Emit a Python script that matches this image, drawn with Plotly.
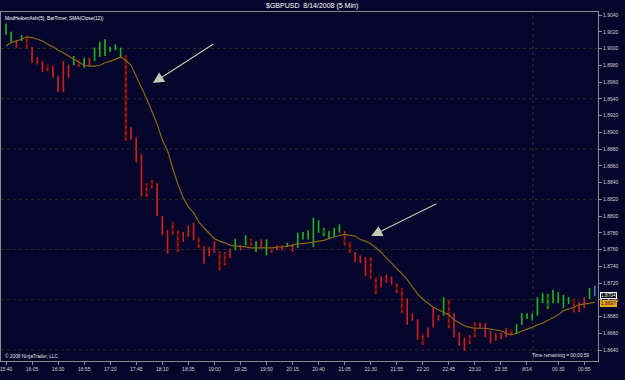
import plotly.graph_objects as go
import pandas as pd

# ---------------- data ----------------
title_text = "$GBPUSD  8/14/2008 (5 Min)"
indicator_text = "ModHeikenAshi(5), BarTimer, SMA(Close(12))"
copyright_text = "© 2008 NinjaTrader, LLC"
timer_text = "Time remaining = 00:00:59"

bar_times = pd.date_range("2008-08-13 15:40", periods=114, freq="5min")

highs = [1.9030, 1.9020, 1.9010, 1.9016, 1.9015, 1.9002, 1.8990, 1.8985, 1.8981, 1.8979,
         1.8967, 1.8985, 1.8981, 1.8991, 1.8986, 1.8989, 1.8989, 1.9001, 1.9008, 1.9011,
         1.9002, 1.9005, 1.9001, 1.8992, 1.8906, 1.8894, 1.8874, 1.8839, 1.8843, 1.8839,
         1.8800, 1.8783, 1.8793, 1.8783, 1.8781, 1.8789, 1.8792, 1.8775, 1.8764, 1.8763,
         1.8770, 1.8758, 1.8757, 1.8761, 1.8773, 1.8765, 1.8777, 1.8773, 1.8770, 1.8772,
         1.8772, 1.8763, 1.8765, 1.8765, 1.8768, 1.8767, 1.8780, 1.8781, 1.8783, 1.8798,
         1.8795, 1.8786, 1.8782, 1.8786, 1.8790, 1.8782, 1.8770, 1.8757, 1.8753, 1.8751,
         1.8751, 1.8727, 1.8728, 1.8730, 1.8728, 1.8720, 1.8714, 1.8702, 1.8684, 1.8677,
         1.8660, 1.8667, 1.8691, 1.8682, 1.8703, 1.8701, 1.8684, 1.8661, 1.8655, 1.8658,
         1.8673, 1.8673, 1.8672, 1.8663, 1.8660, 1.8661, 1.8666, 1.8665, 1.8671, 1.8684,
         1.8684, 1.8684, 1.8703, 1.8708, 1.8707, 1.8712, 1.8709, 1.8706, 1.8703, 1.8701,
         1.8697, 1.8703, 1.8714, 1.8717]

lows = [1.9016, 1.9007, 1.9001, 1.9009, 1.9001, 1.8983, 1.8981, 1.8972, 1.8973, 1.8965,
        1.8948, 1.8948, 1.8965, 1.8980, 1.8978, 1.8977, 1.8979, 1.8985, 1.8990, 1.8991,
        1.8996, 1.8998, 1.8989, 1.8890, 1.8891, 1.8864, 1.8823, 1.8823, 1.8833, 1.8800,
        1.8777, 1.8755, 1.8778, 1.8757, 1.8769, 1.8775, 1.8771, 1.8762, 1.8743, 1.8752,
        1.8756, 1.8735, 1.8741, 1.8750, 1.8759, 1.8759, 1.8765, 1.8764, 1.8757, 1.8762,
        1.8753, 1.8756, 1.8759, 1.8759, 1.8763, 1.8757, 1.8762, 1.8772, 1.8772, 1.8763,
        1.8780, 1.8776, 1.8773, 1.8775, 1.8780, 1.8765, 1.8756, 1.8745, 1.8744, 1.8728,
        1.8725, 1.8707, 1.8715, 1.8720, 1.8718, 1.8708, 1.8684, 1.8670, 1.8675, 1.8652,
        1.8646, 1.8655, 1.8667, 1.8675, 1.8681, 1.8666, 1.8655, 1.8645, 1.8639, 1.8647,
        1.8655, 1.8665, 1.8655, 1.8648, 1.8651, 1.8653, 1.8655, 1.8658, 1.8659, 1.8670,
        1.8677, 1.8675, 1.8681, 1.8696, 1.8689, 1.8696, 1.8696, 1.8690, 1.8695, 1.8685,
        1.8685, 1.8690, 1.8701, 1.8704]

# u = up bar, d = down bar, U/D = hollow up/down bar, c = current (live) bar
bar_kind = ("uuduDdddDd" "ddduDuduuu" "uuuDdddDDd" "ddDDdddDdd" "dDDduduDud"
            "uDdduduuuu" "uUuuuDDddd" "DDdddDDddd" "DddduDdddD" "DddddddDuu"
            "uuuuUuuuuD" "dduc")

sma12 = [1.9003, 1.9007, 1.9009, 1.9011, 1.9014, 1.9013, 1.9011, 1.9009, 1.9005, 1.9002,
         1.8998, 1.8995, 1.8991, 1.8987, 1.8984, 1.8980, 1.8979, 1.8979, 1.8980, 1.8983,
         1.8985, 1.8987, 1.8990, 1.8986, 1.8980, 1.8967, 1.8954, 1.8940, 1.8925, 1.8910,
         1.8891, 1.8878, 1.8857, 1.8838, 1.8822, 1.8811, 1.8804, 1.8793, 1.8786, 1.8780,
         1.8773, 1.8770, 1.8768, 1.8765, 1.8764, 1.8764, 1.8763, 1.8762, 1.8762, 1.8762,
         1.8762, 1.8762, 1.8763, 1.8763, 1.8764, 1.8765, 1.8767, 1.8767, 1.8768, 1.8769,
         1.8770, 1.8771, 1.8773, 1.8775, 1.8777, 1.8778, 1.8777, 1.8776, 1.8772, 1.8770,
         1.8767, 1.8762, 1.8757, 1.8750, 1.8744, 1.8738, 1.8731, 1.8724, 1.8715, 1.8707,
         1.8701, 1.8696, 1.8691, 1.8688, 1.8685, 1.8682, 1.8676, 1.8672, 1.8669, 1.8667,
         1.8666, 1.8666, 1.8666, 1.8665, 1.8664, 1.8663, 1.8660, 1.8658, 1.8660, 1.8663,
         1.8665, 1.8667, 1.8670, 1.8672, 1.8675, 1.8678, 1.8682, 1.8687, 1.8689, 1.8691,
         1.8694, 1.8695, 1.8696, 1.8697]

x_tick_times = ["2008-08-13 15:40", "2008-08-13 16:05", "2008-08-13 16:30", "2008-08-13 16:55",
                "2008-08-13 17:20", "2008-08-13 17:45", "2008-08-13 18:10", "2008-08-13 18:35",
                "2008-08-13 19:00", "2008-08-13 19:25", "2008-08-13 19:50", "2008-08-13 20:15",
                "2008-08-13 20:40", "2008-08-13 21:05", "2008-08-13 21:30", "2008-08-13 21:55",
                "2008-08-13 22:20", "2008-08-13 22:45", "2008-08-13 23:10", "2008-08-13 23:35",
                "2008-08-14 00:00", "2008-08-14 00:30", "2008-08-14 00:55"]
x_tick_labels = ["15:40", "16:05", "16:30", "16:55", "17:20", "17:45", "18:10", "18:35",
                 "19:00", "19:25", "19:50", "20:15", "20:40", "21:05", "21:30", "21:55",
                 "22:20", "22:45", "23:10", "23:35", "8/14", "00:30", "00:55"]

grid_levels = [1.9000, 1.8940, 1.8880, 1.8820, 1.8760, 1.8700, 1.8640]
session_break = "2008-08-14 00:05:45"
last_price = 1.8704
sma_last = 1.8697

# arrows drawn on the chart: (tail time, tail price, tip time, tip price)
arrows = [("2008-08-13 19:00:30", 1.90066, "2008-08-13 18:01:00", 1.89588),
          ("2008-08-13 22:34:30", 1.88155, "2008-08-13 21:30:30", 1.87761)]

assert len(highs) == len(lows) == len(bar_kind) == len(sma12) == len(bar_times)

# ---------------- figure ----------------
BG = "#05052b"
AX = "#8c8c8c"
TXT = "#d2d2d2"
FONT = "Liberation Sans, Arial, sans-serif"

fig = go.Figure()

styles = {
    "u": [("#1fae1f", 1.7, "solid")],
    "d": [("#c81e1e", 1.7, "solid")],
    "U": [("#0c5c0c", 2.8, "solid"), ("#22b422", 1.0, "dot")],
    "D": [("#5c0c0c", 2.8, "solid"), ("#d22020", 1.0, "dot")],
    "c": [("#4d6fb0", 1.7, "solid")],
}

for kind, layers in styles.items():
    xs, ys = [], []
    for t, hi, lo, k in zip(bar_times, highs, lows, bar_kind):
        if k == kind:
            xs += [t, t, None]
            ys += [lo, hi, None]
    if not xs:
        continue
    for color, width, dash in layers:
        fig.add_trace(go.Scatter(x=xs, y=ys, mode="lines",
                                 line=dict(color=color, width=width, dash=dash),
                                 hoverinfo="skip", showlegend=False))

fig.add_trace(go.Scatter(x=bar_times, y=sma12, mode="lines",
                         line=dict(color="#8a6714", width=1.2),
                         name="SMA(12)", showlegend=False))

shapes = []
for lv in grid_levels:
    shapes.append(dict(type="line", xref="paper", x0=0, x1=1, yref="y", y0=lv, y1=lv,
                       line=dict(color="#2c2c22", width=1, dash="dot"), layer="below"))
shapes.append(dict(type="line", xref="x", x0=session_break, x1=session_break,
                   yref="paper", y0=0, y1=1,
                   line=dict(color="#30302c", width=1, dash="dot"), layer="below"))

annotations = [
    dict(text=title_text, xref="paper", yref="paper", x=0.521, y=1.0175,
         xanchor="center", yanchor="middle", showarrow=False,
         font=dict(size=7, color="#ffffff", family=FONT)),
    dict(text=indicator_text, xref="paper", yref="paper", x=0.004, y=0.981,
         xanchor="left", yanchor="middle", showarrow=False,
         font=dict(size=4.8, color="#ffffff", family=FONT)),
    dict(text=copyright_text, xref="paper", yref="paper", x=0.004, y=0.013,
         xanchor="left", yanchor="middle", showarrow=False,
         font=dict(size=4.8, color="#e0e0e0", family=FONT)),
    dict(text=timer_text, xref="paper", yref="paper", x=0.988, y=0.015,
         xanchor="right", yanchor="middle", showarrow=False,
         font=dict(size=4.8, color="#e0e0e0", family=FONT)),
    dict(text=f"{last_price:.4f}", xref="paper", yref="y", x=1.0, y=last_price,
         xanchor="left", yanchor="middle", xshift=2, yshift=1, showarrow=False,
         bgcolor="#000010", bordercolor="#ffffff", borderwidth=1, borderpad=0,
         font=dict(size=4.8, color="#ffffff", family=FONT)),
    dict(text=f"{sma_last:.4f}", xref="paper", yref="y", x=1.0, y=sma_last,
         xanchor="left", yanchor="middle", xshift=2, yshift=-1, showarrow=False,
         bgcolor="#eda21c", bordercolor="#eda21c", borderwidth=1, borderpad=0,
         font=dict(size=4.8, color="#1a1a1a", family=FONT)),
]
for tail_t, tail_p, tip_t, tip_p in arrows:
    annotations.append(dict(x=tip_t, y=tip_p, ax=tail_t, ay=tail_p,
                            xref="x", yref="y", axref="x", ayref="y",
                            showarrow=True, arrowhead=2, arrowsize=2.0,
                            arrowwidth=1.1, arrowcolor="#c9c9b8", text=""))

t_step = pd.Timedelta(minutes=5)
fig.update_layout(
    width=625, height=380,
    margin=dict(l=1, r=27, t=12, b=19),
    paper_bgcolor=BG, plot_bgcolor=BG,
    font=dict(family=FONT, color=TXT, size=5),
    showlegend=False,
    shapes=shapes,
    annotations=annotations,
    xaxis=dict(type="date",
               range=[bar_times[0] - 0.96 * t_step, bar_times[-1] + 0.63 * t_step],
               tickmode="array", tickvals=x_tick_times, ticktext=x_tick_labels,
               ticklabeloverflow="allow",
               ticks="outside", ticklen=3, tickcolor=AX, tickwidth=1,
               showline=True, linecolor=AX, linewidth=1, mirror=True,
               showgrid=False, zeroline=False,
               tickfont=dict(size=5, color=TXT, family=FONT)),
    yaxis=dict(side="right", range=[1.86269, 1.90436],
               tick0=1.8640, dtick=0.0020, tickformat=".4f",
               ticklabeloverflow="allow",
               ticks="outside", ticklen=3, tickcolor=AX, tickwidth=1,
               showline=True, linecolor=AX, linewidth=1, mirror=True,
               showgrid=False, zeroline=False,
               tickfont=dict(size=5, color=TXT, family=FONT)),
)

fig.write_html("out.html")
